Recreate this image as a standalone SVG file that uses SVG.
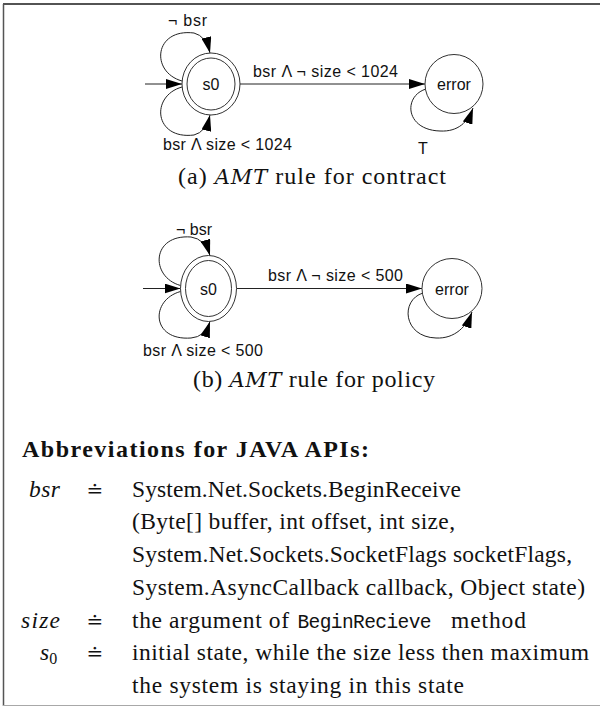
<svg xmlns="http://www.w3.org/2000/svg" width="600" height="707" viewBox="0 0 600 707">
  <defs>
    <style>
      .state { fill: #ffffff; stroke: #333333; stroke-width: 1; }
      .edge { fill: none; stroke: #222222; stroke-width: 1; }
      .lbl { font-family: "Liberation Sans", Arial, sans-serif; font-size: 16px; fill: #111111; }
      .cap { font-family: "Liberation Serif", "Times New Roman", serif; font-size: 24px; fill: #111111; }
      .cal { font-family: "DejaVu Serif", "Liberation Serif", serif; font-style: italic; font-size: 21px; }
      .txt { font-family: "Liberation Serif", "Times New Roman", serif; font-size: 23.5px; fill: #111111; }
      .head { font-family: "Liberation Serif", "Times New Roman", serif; font-size: 24px; font-weight: bold; fill: #111111; }
      .it { font-style: italic; }
      .mono { font-family: "Liberation Mono", "Courier New", monospace; font-size: 19.5px; fill: #111111; }
      .eq { font-family: "DejaVu Serif", "Liberation Serif", serif; font-size: 20px; fill: #111111; }
    </style>
    <marker id="arrow" markerUnits="userSpaceOnUse" markerWidth="16" markerHeight="10" refX="16" refY="5" orient="auto">
      <path d="M0,0 L16,5 L0,10 z" fill="#000000"/>
    </marker>
  </defs>

  <rect x="0" y="0" width="600" height="707" fill="#ffffff"/>

  <!-- frame -->
  <line x1="3" y1="4" x2="600" y2="4" stroke="#1a1a1a" stroke-width="1.3"/>
  <line x1="3.5" y1="4" x2="3.5" y2="706" stroke="#555555" stroke-width="1.5"/>
  <line x1="3" y1="705.5" x2="600" y2="705.5" stroke="#a8a8a8" stroke-width="1.2"/>

  <!-- (a) contract automaton -->
  <g id="contract-connectors">
    <path class="edge" d="M145,84 L182,84" marker-end="url(#arrow)"/>
    <path class="edge" d="M240,84 L425,84" marker-end="url(#arrow)"/>
    <path class="edge" d="M182,81 C150,72 154,28 194,33 Q206,36 210,53" marker-end="url(#arrow)"/>
    <path class="edge" d="M182,87 C150,96 154,140 194,135 Q206,132 210,115" marker-end="url(#arrow)"/>
    <path class="edge" d="M426,89 C403,96 405,130 440,131 C458,132 468,122 473,108" marker-end="url(#arrow)"/>
  </g>
  <g id="contract-s0">
    <ellipse class="state" cx="211" cy="84" rx="29" ry="31"/>
    <ellipse class="state" cx="211" cy="84" rx="24" ry="26"/>
    <text class="lbl" x="211" y="90" text-anchor="middle">s0</text>
  </g>
  <g id="contract-error">
    <ellipse class="state" cx="454" cy="84" rx="29" ry="29.5"/>
    <text class="lbl" x="454" y="90" text-anchor="middle">error</text>
  </g>
  <g id="contract-labels">
    <text class="lbl" x="168" y="26" textLength="39">¬ bsr</text>
    <text class="lbl" x="253" y="77" textLength="145">bsr Λ ¬ size &lt; 1024</text>
    <text class="lbl" x="163" y="150" textLength="129">bsr Λ size &lt; 1024</text>
    <text class="lbl" x="418" y="154">T</text>
  </g>
  <text class="cap" x="178" y="184" textLength="268">(a) <tspan class="cal">AMT</tspan> rule for contract</text>

  <!-- (b) policy automaton -->
  <g id="policy-connectors">
    <path class="edge" d="M143,288.5 L180.5,288.5" marker-end="url(#arrow)"/>
    <path class="edge" d="M236.5,288.5 L422,288.5" marker-end="url(#arrow)"/>
    <path class="edge" d="M180.5,285.5 C150,277 151,234 191,237 Q205,239 210,255.5" marker-end="url(#arrow)"/>
    <path class="edge" d="M180.5,291.5 C150,300 151,341 191,338 Q205,337 210,321.5" marker-end="url(#arrow)"/>
    <path class="edge" d="M423,293 C400,300 403,337 436,338 C455,339 467,326 472,312" marker-end="url(#arrow)"/>
  </g>
  <g id="policy-s0">
    <ellipse class="state" cx="208.5" cy="288.5" rx="28" ry="33"/>
    <ellipse class="state" cx="208.5" cy="288.5" rx="23" ry="28"/>
    <text class="lbl" x="208.5" y="294.5" text-anchor="middle">s0</text>
  </g>
  <g id="policy-error">
    <ellipse class="state" cx="452" cy="288.5" rx="30" ry="30"/>
    <text class="lbl" x="452" y="294.5" text-anchor="middle">error</text>
  </g>
  <g id="policy-labels">
    <text class="lbl" x="176" y="235" textLength="36">¬ bsr</text>
    <text class="lbl" x="268" y="281" textLength="135">bsr Λ ¬ size &lt; 500</text>
    <text class="lbl" x="143" y="356" textLength="120">bsr Λ size &lt; 500</text>
  </g>
  <text class="cap" x="193" y="387" textLength="242">(b) <tspan class="cal">AMT</tspan> rule for policy</text>

  <!-- abbreviations -->
  <text class="head" x="22" y="457" textLength="347">Abbreviations for JAVA APIs:</text>

  <text class="txt it" x="29" y="496.7" textLength="31">bsr</text>
  <text class="eq" x="95" y="496.7" text-anchor="middle">≐</text>
  <text class="txt" x="132" y="496.7" textLength="329">System.Net.Sockets.BeginReceive</text>
  <text class="txt" x="132" y="529.4" textLength="323">(Byte[] buffer, int offset, int size,</text>
  <text class="txt" x="132" y="562.1" textLength="440">System.Net.Sockets.SocketFlags socketFlags,</text>
  <text class="txt" x="132" y="594.8" textLength="453">System.AsyncCallback callback, Object state)</text>

  <text class="txt it" x="21" y="627.5" textLength="39">size</text>
  <text class="eq" x="95" y="627.5" text-anchor="middle">≐</text>
  <text class="txt" x="132" y="627.5" textLength="157">the argument of</text>
  <text class="mono" x="297.5" y="627.5" textLength="134">BeginRecieve</text>
  <text class="txt" x="451" y="627.5" textLength="75">method</text>

  <text class="txt it" x="40" y="660.2">s<tspan font-style="normal" font-size="16" dy="4">0</tspan></text>
  <text class="eq" x="95" y="660.2" text-anchor="middle">≐</text>
  <text class="txt" x="132" y="660.2" textLength="457">initial state, while the size less then maximum</text>
  <text class="txt" x="132" y="692.9" textLength="332">the system is staying in this state</text>
</svg>
